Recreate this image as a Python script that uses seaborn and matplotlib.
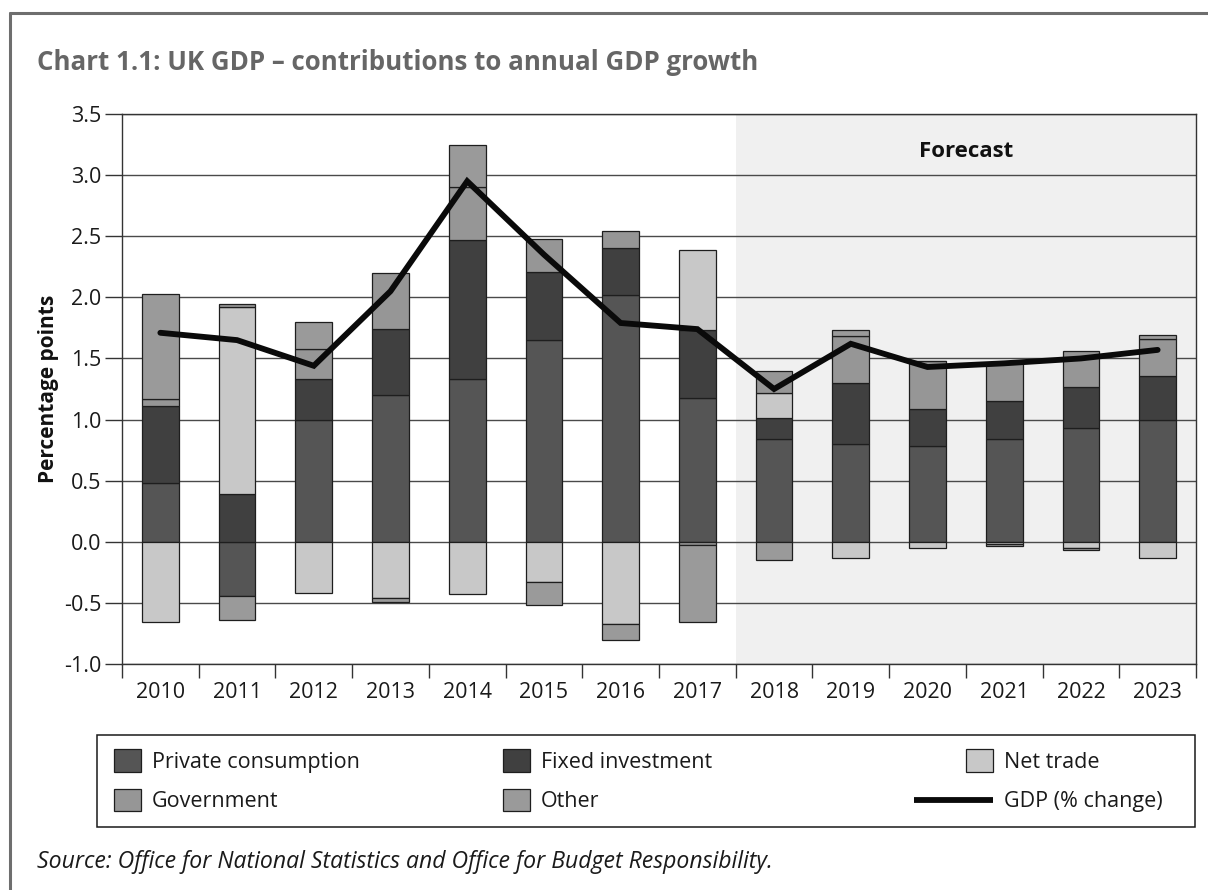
import numpy as np
import matplotlib
matplotlib.use("Agg")
import matplotlib.pyplot as plt
import seaborn as sns
from matplotlib.patches import Patch, Rectangle
from matplotlib.lines import Line2D
from matplotlib.legend_handler import HandlerBase
from matplotlib.ticker import FormatStrFormatter

# ---- data (percentage-point contributions to annual GDP growth) ----
years = [str(y) for y in range(2010, 2024)]
private_consumption = [0.48, -0.44, 1.00, 1.20, 1.33, 1.65, 2.02, 1.18, 0.84, 0.80, 0.78, 0.84, 0.93, 1.00]
fixed_investment = [0.63, 0.39, 0.33, 0.54, 1.14, 0.56, 0.38, 0.55, 0.17, 0.50, 0.31, 0.31, 0.34, 0.36]
net_trade = [-0.66, 1.53, -0.42, -0.46, -0.43, -0.33, -0.67, 0.66, 0.21, -0.13, -0.05, -0.02, -0.05, -0.13]
government = [0.06, 0.025, 0.25, 0.46, 0.43, 0.27, 0.14, -0.024, 0.18, 0.38, 0.39, 0.31, 0.29, 0.30]
other = [0.86, -0.20, 0.22, -0.035, 0.35, -0.19, -0.13, -0.63, -0.15, 0.05, 0.0, -0.015, -0.02, 0.03]
gdp_change = [1.71, 1.65, 1.44, 2.05, 2.95, 2.35, 1.79, 1.74, 1.25, 1.62, 1.43, 1.46, 1.50, 1.57]
first_forecast_year = "2018"

series_names = ["Private consumption", "Fixed investment", "Net trade", "Government", "Other"]
series_values = [private_consumption, fixed_investment, net_trade, government, other]
series_colors = ["#555555", "#404040", "#c8c8c8", "#969696", "#9a9a9a"]
line_label = "GDP (% change)"

title = "Chart 1.1: UK GDP \u2013 contributions to annual GDP growth"
source = "Source: Office for National Statistics and Office for Budget Responsibility."

# ---- style ----
sns.set_theme(style="white")
plt.rcParams["font.family"] = ["Open Sans", "DejaVu Sans"]
plt.rcParams["axes.unicode_minus"] = False

W, H = 1208, 890
fig = plt.figure(figsize=(W / 100, H / 100), dpi=100)
ax = fig.add_axes([122 / W, 1 - 664 / H, (1196 - 122) / W, (664 - 114) / H])

n = len(years)
edge = "#1e1e1e"

# forecast period shading
fc_idx = years.index(first_forecast_year)
ax.axvspan(fc_idx - 0.5, n - 0.5, color="#f0f0f0", zorder=0.1, lw=0)

# stacked bars: positives stack upward, negatives stack downward
pos_base = np.zeros(n)
neg_base = np.zeros(n)
for name, vals, color in zip(series_names, series_values, series_colors):
    v = np.asarray(vals, dtype=float)
    bottom = np.where(v >= 0, pos_base, neg_base)
    sns.barplot(x=years, y=v, bottom=bottom, color=color, saturation=1,
                width=0.48, edgecolor=edge, linewidth=0.9, errorbar=None,
                ax=ax, zorder=3)
    pos_base += np.clip(v, 0, None)
    neg_base += np.clip(v, None, 0)

# GDP growth line
sns.lineplot(x=years, y=gdp_change, color="#0a0a0a", linewidth=4.2, sort=False,
             solid_capstyle="round", solid_joinstyle="miter", ax=ax, zorder=5,
             legend=False)

# axes
ax.set_xlim(-0.5, n - 0.5)
ax.set_ylim(-1.0, 3.5)
ax.set_yticks(np.arange(-1.0, 3.51, 0.5))
ax.yaxis.set_major_formatter(FormatStrFormatter("%.1f"))
ax.set_xticks(range(n))
ax.set_xticklabels(years)
ax.set_xticks(np.arange(-0.5, n, 1.0), minor=True)
ax.set_xlabel("")
ax.set_ylabel("Percentage points", fontsize=15, fontweight="bold", color="#111111")
ax.yaxis.set_label_coords(-0.059, 0.5)

ax.set_axisbelow(True)
ax.yaxis.grid(True, color="#4a4a4a", linewidth=1.0, zorder=0.5)
ax.xaxis.grid(False)
for side in ["left", "bottom", "right", "top"]:
    ax.spines[side].set_visible(True)
    ax.spines[side].set_color("#333333")
    ax.spines[side].set_linewidth(1.0)

ax.tick_params(axis="x", which="major", bottom=True, length=0, pad=13,
               labelsize=15.5, labelcolor="#1a1a1a")
ax.tick_params(axis="x", which="minor", bottom=True, length=10, width=1.0, color="#333333")
ax.tick_params(axis="y", which="major", left=True, length=12, width=1.0, pad=3,
               color="#333333", labelsize=15.5, labelcolor="#1a1a1a")

ax.text((fc_idx - 0.5 + n - 0.5) / 2, 3.19, "Forecast", ha="center", va="center",
        fontsize=16, fontweight="bold", color="#111111")

# ---- legend ----
class LongLineHandler(HandlerBase):
    """Draws the line key extending leftwards from the handle box."""
    def create_artists(self, legend, orig_handle, xdescent, ydescent, width, height,
                       fontsize, trans):
        y = -ydescent + height / 2
        x1 = -xdescent + width
        x0 = x1 - 79 * 72 / fig.dpi
        line = Line2D([x0, x1], [y, y], color=orig_handle.get_color(),
                      linewidth=orig_handle.get_linewidth(), solid_capstyle="butt")
        line.set_transform(trans)
        return [line]

patches = {nm: Patch(facecolor=c, edgecolor=edge, linewidth=0.9)
           for nm, c in zip(series_names, series_colors)}
gdp_handle = Line2D([], [], color="#0a0a0a", linewidth=4.2)

legend_columns = [
    (114, [patches["Private consumption"], patches["Government"]], ["Private consumption", "Government"]),
    (503, [patches["Fixed investment"], patches["Other"]], ["Fixed investment", "Other"]),
    (966, [patches["Net trade"], gdp_handle], ["Net trade", line_label]),
]
fs_leg = 15.5
hl = 27 / (fs_leg * 100 / 72)
for x_px, hs, ls in legend_columns:
    fig.legend(hs, ls, loc="upper left", bbox_to_anchor=(x_px / W, 1 - 749 / H),
               bbox_transform=fig.transFigure, frameon=False, borderpad=0,
               borderaxespad=0, handlelength=hl, handleheight=hl, handletextpad=0.52,
               labelspacing=0.74, fontsize=fs_leg, labelcolor="#1a1a1a",
               handler_map={Line2D: LongLineHandler()})

fig.add_artist(Rectangle((97 / W, 1 - 827 / H), (1195 - 97) / W, (827 - 735) / H,
                         transform=fig.transFigure, fill=False, edgecolor="#1a1a1a",
                         linewidth=1.1))

# ---- titles and outer frame ----
fig.text(37 / W, 1 - 62 / H, title, fontsize=18.6, fontweight="bold", color="#666666",
         ha="left", va="center")
fig.text(37 / W, 1 - 862 / H, source, fontsize=16.6, fontstyle="italic", color="#1a1a1a",
         ha="left", va="center")
fig.add_artist(Line2D([10 / W, 1.0], [1 - 13 / H, 1 - 13 / H], transform=fig.transFigure,
                      color="#6e6e6e", linewidth=2.2))
fig.add_artist(Line2D([10 / W, 10 / W], [0.0, 1 - 13 / H], transform=fig.transFigure,
                      color="#6e6e6e", linewidth=2.2))

fig.savefig("out.png", dpi=100, facecolor="white")
